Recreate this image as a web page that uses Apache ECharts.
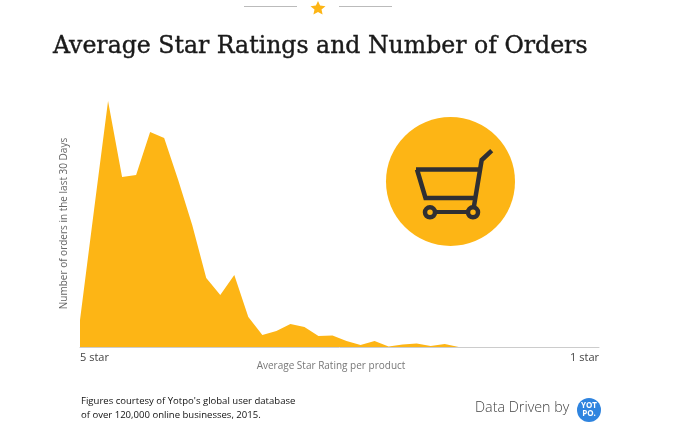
<!DOCTYPE html>
<html>
<head>
<meta charset="utf-8">
<title>Average Star Ratings and Number of Orders</title>
<style>
html, body { margin: 0; padding: 0; background: #fff; }
#main { width: 679px; height: 441px; }
</style>
<script src="https://cdn.jsdelivr.net/npm/echarts@6/dist/echarts.min.js"></script>
</head>
<body>
<div id="main"></div>
<script>
// x axis only labels both ends
var ratingLabels = ['5 star', '', '', '', '', '', '', '', '', '', '', '', '', '', '', '', '', '', '', '', '', '', '', '', '', '', '', '', '', '', '', '', '', '', '', '', '', '1 star'];
// values, no unit on the original
var orders = [27, 137, 246, 170, 172, 215, 209, 167, 122, 69, 52, 72, 30, 12, 16, 23, 20, 11, 11.5, 6, 2, 6, 0.5, 2.5, 3.5, 1, 3, 0, 0, 0, 0, 0, 0, 0, 0, 0, 0, 0];

var yellow = '#FDB515';
var dark = '#2F2F33';

var myChart = echarts.init(document.getElementById('main'));

var option = {
	animation : false,
	backgroundColor : '#fff',
	title : {
		text : 'Average Star Ratings and Number of Orders',
		left : 53,
		top : 35,
		padding : 0,
		textStyle : {
			fontFamily : 'DejaVu Serif',
			fontSize : 23.6,
			fontWeight : 'normal',
			color : '#1a1a1a',
			textBorderColor : '#1a1a1a',
			textBorderWidth : 0.4
		}
	},
	grid : {
		left : 80,
		right : 80,
		top : 100,
		bottom : 94
	},
	xAxis : {
		type : 'category',
		boundaryGap : false,
		data : ratingLabels,
		name : 'Average Star Rating per product',
		nameLocation : 'middle',
		nameGap : 14,
		nameMoveOverlap : false,
		nameTextStyle : {
			fontFamily : 'Open Sans',
			fontSize : 10,
			color : '#777',
			padding : [ 0, 17, 0, 0 ]
		},
		axisLine : {
			lineStyle : {
				color : '#ccc',
				width : 1
			}
		},
		axisTick : {
			show : false
		},
		axisLabel : {
			interval : 0,
			margin : 5,
			fontFamily : 'Open Sans',
			fontSize : 11,
			color : '#444',
			alignMinLabel : 'left',
			alignMaxLabel : 'right'
		}
	},
	yAxis : {
		type : 'value',
		min : 0,
		max : 247,
		name : 'Number of orders in the last 30 Days',
		nameLocation : 'middle',
		nameGap : 11,
		nameTextStyle : {
			fontFamily : 'Open Sans',
			fontSize : 10,
			color : '#666'
		},
		axisLine : {
			show : false
		},
		axisTick : {
			show : false
		},
		axisLabel : {
			show : false
		},
		splitLine : {
			show : false
		}
	},
	series : [ {
		type : 'line',
		data : orders,
		symbol : 'none',
		lineStyle : {
			width : 0
		},
		areaStyle : {
			color : yellow,
			opacity : 1
		}
	} ],
	graphic : [
		// top ornament
		{ type : 'line', shape : { x1 : 244, y1 : 6.5, x2 : 297, y2 : 6.5 }, style : { stroke : '#bbb', lineWidth : 1 } },
		{ type : 'line', shape : { x1 : 339, y1 : 6.5, x2 : 392, y2 : 6.5 }, style : { stroke : '#bbb', lineWidth : 1 } },
		{ type : 'polygon', shape : { points : [ [318, 1], [320.1, 5.6], [325.5, 6.2], [321.5, 9.6], [322.6, 14.6], [318, 12], [313.4, 14.6], [314.5, 9.6], [310.5, 6.2], [315.9, 5.6] ] }, style : { fill : yellow } },
		// cart icon
		{ type : 'circle', shape : { cx : 450.5, cy : 181.5, r : 64.5 }, style : { fill : yellow } },
		{ type : 'polyline', shape : { points : [ [416, 169.5], [481, 169.5] ] }, style : { stroke : dark, lineWidth : 4.5 } },
		{ type : 'polyline', shape : { points : [ [417, 169.5], [425.5, 198], [475, 198] ] }, style : { stroke : dark, fill : 'none', lineWidth : 4.5 } },
		{ type : 'polyline', shape : { points : [ [473, 212], [481.7, 160], [491.7, 150.7] ] }, style : { stroke : dark, fill : 'none', lineWidth : 4.5 } },
		{ type : 'line', shape : { x1 : 430, y1 : 212, x2 : 473, y2 : 212 }, style : { stroke : dark, lineWidth : 4 } },
		{ type : 'circle', shape : { cx : 430, cy : 212.3, r : 5 }, style : { fill : yellow, stroke : dark, lineWidth : 4.5 } },
		{ type : 'circle', shape : { cx : 473, cy : 212.3, r : 5 }, style : { fill : yellow, stroke : dark, lineWidth : 4.5 } },
		// footer
		{ type : 'text', left : 81, top : 394, style : { text : "Figures courtesy of Yotpo's global user database\nof over 120,000 online businesses, 2015.", font : '500 9.55px "Open Sans"', fill : '#111', lineHeight : 14 } },
		{ type : 'text', left : 475, top : 401, style : { text : 'Data Driven by', font : '300 14.3px "Open Sans"', fill : '#444' } },
		{ type : 'circle', shape : { cx : 589, cy : 410, r : 12 }, style : { fill : '#2F84DF' } },
		{ type : 'text', style : { x : 589, y : 410, text : 'YOT\nPO.', font : 'bold 8px "Open Sans"', fill : '#fff', lineHeight : 8, align : 'center', verticalAlign : 'middle' } }
	]
};

myChart.setOption(option);
</script>
</body>
</html>
